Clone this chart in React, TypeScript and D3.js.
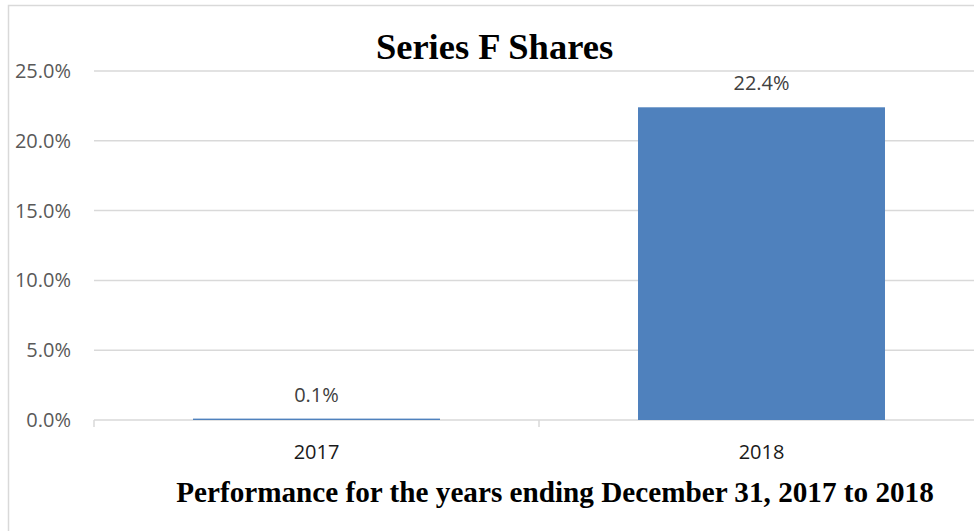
import { useEffect, useRef } from "react"
import * as d3 from "d3"

const categories = ["2017", "2018"]
const values = [0.001, 0.224]
const yTicks = [0, 0.05, 0.1, 0.15, 0.2, 0.25]
const title = "Series F Shares"
const xTitle = "Performance for the years ending December 31, 2017 to 2018"

const W = 974
const H = 531

export default function App() {
  const svgRef = useRef<SVGSVGElement>(null)

  useEffect(() => {
    if (!svgRef.current) return
    document.body.style.margin = "0"

    const svg = d3.select(svgRef.current)
    svg.selectAll("*").remove()

    const labelFont = "'Open Sans', sans-serif"
    const serif = "'Liberation Serif', 'Times New Roman', serif"

    // chart frame (only left + top edges fall inside the picture)
    svg
      .append("rect")
      .attr("x", 8.5)
      .attr("y", 5.5)
      .attr("width", 1000)
      .attr("height", 560)
      .attr("fill", "#fff")
      .attr("stroke", "#d9d9d9")
      .attr("stroke-width", 1.5)

    const x = d3
      .scaleBand()
      .domain(categories)
      .range([94, 984])
      .paddingInner(0.445)
      .paddingOuter(0.2225)

    const y = d3.scaleLinear().domain([0, 0.25]).range([420, 71])
    const fmt = d3.format(".1%")

    // gridlines
    svg
      .append("g")
      .selectAll("line")
      .data(yTicks)
      .enter()
      .append("line")
      .attr("x1", 94)
      .attr("x2", W)
      .attr("y1", (d) => y(d))
      .attr("y2", (d) => y(d))
      .attr("stroke", "#d9d9d9")
      .attr("stroke-width", 1.5)

    // y tick labels
    svg
      .append("g")
      .selectAll("text")
      .data(yTicks)
      .enter()
      .append("text")
      .attr("x", 71)
      .attr("y", (d) => y(d) + 7)
      .attr("text-anchor", "end")
      .attr("fill", "#595959")
      .attr("font-family", labelFont)
      .attr("font-size", "20px")
      .text((d) => fmt(d))

    // category separator ticks
    const step = x.step()
    const tickXs = [0, 1].map((i) => 94 + i * step)
    svg
      .append("g")
      .selectAll("line")
      .data(tickXs)
      .enter()
      .append("line")
      .attr("x1", (d) => d)
      .attr("x2", (d) => d)
      .attr("y1", y(0))
      .attr("y2", y(0) + 7)
      .attr("stroke", "#d9d9d9")
      .attr("stroke-width", 1.5)

    // bars
    svg
      .append("g")
      .selectAll("rect")
      .data(values)
      .enter()
      .append("rect")
      .attr("x", (d, i) => x(categories[i]) as number)
      .attr("y", (d) => y(d))
      .attr("width", x.bandwidth())
      .attr("height", (d) => y(0) - y(d))
      .attr("fill", "#4f81bd")

    // data labels
    svg
      .append("g")
      .selectAll("text")
      .data(values)
      .enter()
      .append("text")
      .attr("x", (d, i) => (x(categories[i]) as number) + x.bandwidth() / 2)
      .attr("y", (d) => y(d) - 17)
      .attr("text-anchor", "middle")
      .attr("fill", "#404040")
      .attr("font-family", labelFont)
      .attr("font-size", "20px")
      .text((d) => fmt(d))

    // category labels
    svg
      .append("g")
      .selectAll("text")
      .data(categories)
      .enter()
      .append("text")
      .attr("x", (d) => (x(d) as number) + x.bandwidth() / 2)
      .attr("y", 459)
      .attr("text-anchor", "middle")
      .attr("fill", "#1a1a1a")
      .attr("font-family", labelFont)
      .attr("font-size", "20px")
      .text((d) => d)

    svg
      .append("text")
      .attr("x", 494.5)
      .attr("y", 59)
      .attr("text-anchor", "middle")
      .attr("font-family", serif)
      .attr("font-weight", "bold")
      .attr("font-size", "36.5px")
      .attr("fill", "#000")
      .text(title)

    svg
      .append("text")
      .attr("x", 555)
      .attr("y", 502)
      .attr("text-anchor", "middle")
      .attr("font-family", serif)
      .attr("font-weight", "bold")
      .attr("font-size", "29.2px")
      .attr("fill", "#000")
      .text(xTitle)
  }, [])

  return (
    <svg
      ref={svgRef}
      width={W}
      height={H}
      style={{ display: "block", position: "absolute", left: 0, top: 0, background: "#fff" }}
    />
  )
}
